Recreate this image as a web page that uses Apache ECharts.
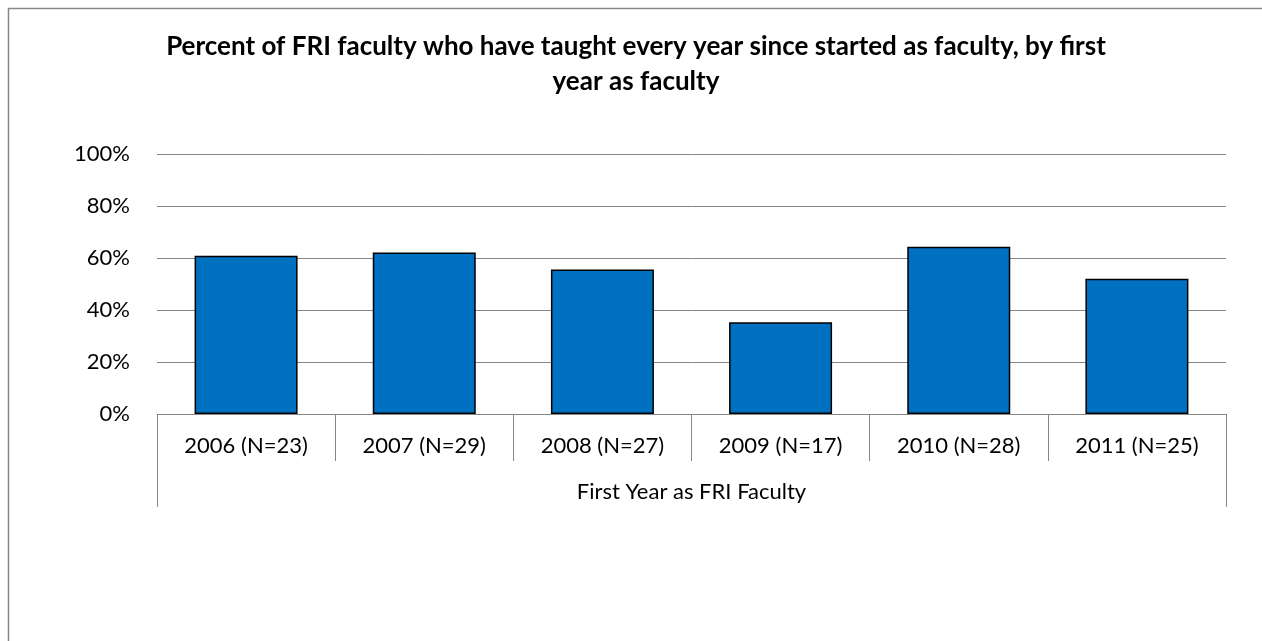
<!DOCTYPE html>
<html>
<head>
<meta charset="utf-8">
<script src="https://cdn.jsdelivr.net/npm/echarts@6/dist/echarts.min.js"></script>
<style>
html,body{margin:0;padding:0;background:#fff;}
#chart{width:1262px;height:641px;}
</style>
</head>
<body>
<div id="chart"></div>
<script>
const titleText = 'Percent of FRI faculty who have taught every year since started as faculty, by first\nyear as faculty';
const categories = ['2006 (N=23)', '2007 (N=29)', '2008 (N=27)', '2009 (N=17)', '2010 (N=28)', '2011 (N=25)'];
const groupLabel = ['First Year as FRI Faculty'];
const percentValues = [60.9, 62.1, 55.6, 35.3, 64.3, 52.0];
const yTicks = { min: 0, max: 100, interval: 20 };

const FONT = 'Lato, "Open Sans", sans-serif';
const chart = echarts.init(document.getElementById('chart'), null, { renderer: 'canvas' });
chart.setOption({
  animation: false,
  backgroundColor: '#ffffff',
  title: {
    text: titleText,
    left: 636,
    textAlign: 'center',
    top: 29,
    padding: 0,
    textStyle: { fontFamily: FONT, fontWeight: 'bold', fontSize: 26, lineHeight: 35, color: '#000' }
  },
  graphic: [{
    type: 'rect',
    shape: { x: 8.5, y: 8.5, width: 1400, height: 1000 },
    style: { fill: 'none', stroke: '#868686', lineWidth: 1.5 },
    silent: true
  }],
  grid: { left: 157, right: 36, top: 154, bottom: 227, containLabel: false, outerBoundsMode: 'none' },
  xAxis: [{
    type: 'category',
    data: categories,
    position: 'bottom',
    axisLine: { onZero: false, lineStyle: { color: '#868686', width: 1 } },
    axisTick: { show: true, alignWithLabel: false, length: 47, lineStyle: { color: '#868686', width: 1 } },
    axisLabel: { margin: 20, fontFamily: FONT, fontSize: 22, lineHeight: 24, color: '#000', interval: 0 }
  }, {
    type: 'category',
    data: groupLabel,
    position: 'bottom',
    axisLine: { show: false, onZero: false },
    axisTick: { show: true, alignWithLabel: false, length: 93, lineStyle: { color: '#868686', width: 1 } },
    axisLabel: { margin: 66, fontFamily: FONT, fontSize: 22, lineHeight: 24, color: '#000' }
  }],
  yAxis: {
    type: 'value',
    min: yTicks.min,
    max: yTicks.max,
    interval: yTicks.interval,
    axisLine: { show: false },
    axisTick: { show: false },
    splitLine: { lineStyle: { color: '#868686', width: 1 } },
    axisLabel: { margin: 27, fontFamily: FONT, fontSize: 22, color: '#000', formatter: '{value}%' }
  },
  series: [{
    type: 'bar',
    data: percentValues,
    xAxisIndex: 0,
    barWidth: 103,
    itemStyle: { color: '#0070C0', borderColor: '#000000', borderWidth: 1.5 }
  }]
});
</script>
</body>
</html>
